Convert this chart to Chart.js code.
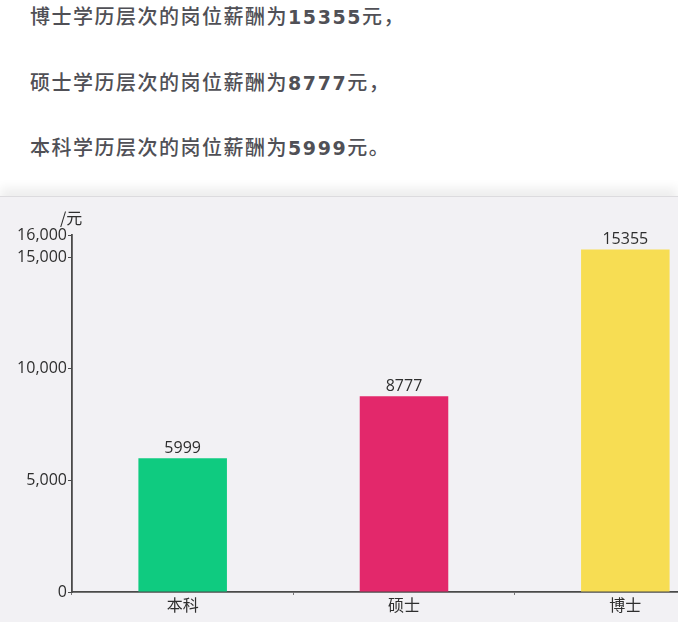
<!DOCTYPE html>
<html lang="zh-CN">
<head>
  <meta charset="UTF-8">
  <title>岗位薪酬</title>
  <script src="https://cdn.jsdelivr.net/npm/chart.js@4/dist/chart.umd.min.js"></script>
  <style>
    html, body {
      margin: 0;
      padding: 0;
      background: #fff;
      width: 678px;
      height: 622px;
      overflow: hidden;
      font-family: "Noto Sans CJK SC", "Noto Sans", sans-serif;
    }
    .texto p {
      position: absolute;
      left: 30px;
      margin: 0;
      font-size: 20px;
      font-weight: 500;
      color: #505056;
      letter-spacing: 1.5px;
      line-height: 26px;
      white-space: nowrap;
    }
    .texto b {
      font-family: "DejaVu Sans", sans-serif;
      font-weight: bold;
      font-size: 19px;
      letter-spacing: 1.6px;
    }
    .panel {
      position: absolute;
      left: 0;
      top: 196px;
      width: 678px;
      height: 426px;
      background: #f2f1f4;
      overflow: hidden;
      box-shadow: 0 -8px 10px rgba(0,0,0,0.07);
      border-top: 1px solid #dcdbde;
    }
    canvas { position: absolute; left: 0; top: -1px; }
  </style>
</head>
<body>
  <div class="texto">
    <p style="top:3px">博士学历层次的岗位薪酬为<b>15355</b>元，</p>
    <p style="top:69px">硕士学历层次的岗位薪酬为<b>8777</b>元，</p>
    <p style="top:134px">本科学历层次的岗位薪酬为<b>5999</b>元。</p>
  </div>

  <div class="panel">
    <canvas id="grafico" width="742" height="427" style="width:742px;height:427px"></canvas>
  </div>

  <script>
    const categorias = ['本科', '硕士', '博士'];
    const salarios = [5999, 8777, 15355];
    const colores = ['#0fcb80', '#e3286b', '#f7dd53'];
    const ticksY = [0, 5000, 10000, 15000, 16000];
    const unidad = '/元';

    // etiquetas encima de cada barra + unidad del eje
    const etiquetas = {
      id: 'etiquetas',
      afterDatasetsDraw(chart) {
        const ctx = chart.ctx;
        ctx.save();
        ctx.fillStyle = '#2e2e2e';
        ctx.font = '16px "Open Sans", "Noto Sans", sans-serif';
        ctx.textAlign = 'center';
        ctx.textBaseline = 'bottom';
        chart.getDatasetMeta(0).data.forEach((bar, i) => {
          ctx.fillText(String(salarios[i]), bar.x, bar.y - 2);
        });
        ctx.font = '16px "Noto Sans CJK SC", sans-serif';
        ctx.textAlign = 'left';
        ctx.textBaseline = 'middle';
        ctx.fillText(unidad, chart.chartArea.left - 12, chart.chartArea.top - 17);
        ctx.restore();
      }
    };

    new Chart(document.getElementById('grafico'), {
      type: 'bar',
      data: {
        labels: categorias,
        datasets: [{
          data: salarios,
          backgroundColor: colores,
          borderWidth: 0,
          barPercentage: 0.4,
          categoryPercentage: 1
        }]
      },
      options: {
        responsive: false,
        animation: false,
        layout: { padding: { top: 39, right: 6, left: 0, bottom: 0 } },
        plugins: { legend: { display: false }, tooltip: { enabled: false } },
        scales: {
          x: {
            offset: true,
            grid: { offset: true, drawOnChartArea: false, tickLength: 3, color: '#777' },
            border: { color: '#4a4a4a', width: 1.8 },
            ticks: {
              color: '#2e2e2e',
              padding: 0,
              font: { size: 16, family: '"Noto Sans CJK SC", sans-serif' }
            },
            afterFit(scale) { scale.height = 31; }
          },
          y: {
            min: 0,
            max: 16000,
            afterBuildTicks(scale) {
              scale.ticks = ticksY.map(v => ({ value: v }));
            },
            grid: { drawOnChartArea: false, tickLength: 4, color: '#4a4a4a' },
            border: { color: '#4a4a4a', width: 1.8 },
            ticks: {
              color: '#2e2e2e',
              padding: 1,
              font: { size: 16, family: '"Open Sans", "Noto Sans", sans-serif' },
              callback: v => v.toLocaleString('en-US')
            },
            afterFit(scale) { scale.width = 72; }
          }
        }
      },
      plugins: [etiquetas]
    });
  </script>
</body>
</html>
